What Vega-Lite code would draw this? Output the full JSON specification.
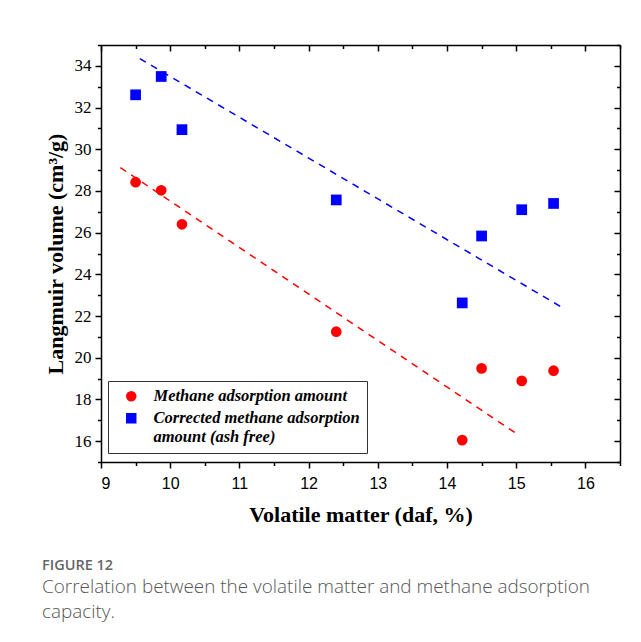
{
  "$schema": "https://vega.github.io/schema/vega-lite/v6.json",
  "autosize": {"type": "none"},
  "padding": {"left": 101, "top": 45, "right": 21, "bottom": 180},
  "width": 519,
  "height": 417,
  "background": "white",
  "config": {
    "view": {"stroke": null},
    "axis": {"domainColor": "black", "domainWidth": 1.5, "tickColor": "black", "tickWidth": 1.5, "grid": false, "labelColor": "black", "titleColor": "black"}
  },
  "title": {
    "text": "FIGURE 12",
    "subtitle": ["Correlation between the volatile matter and methane adsorption", "capacity."],
    "orient": "bottom",
    "anchor": "start",
    "frame": "group",
    "dx": -59,
    "offset": 34,
    "font": "Open Sans",
    "fontSize": 14.5,
    "fontWeight": 600,
    "color": "#666666",
    "subtitleFont": "Open Sans",
    "subtitleFontSize": 18.9,
    "subtitleFontWeight": 300,
    "subtitleColor": "#555555",
    "subtitleLineHeight": 25,
    "subtitlePadding": 4
  },
  "datasets": {
    "points": [
      {"vm": 9.50, "v": 28.42, "series": "Methane adsorption amount"},
      {"vm": 9.87, "v": 28.03, "series": "Methane adsorption amount"},
      {"vm": 10.17, "v": 26.40, "series": "Methane adsorption amount"},
      {"vm": 12.40, "v": 21.25, "series": "Methane adsorption amount"},
      {"vm": 14.22, "v": 16.05, "series": "Methane adsorption amount"},
      {"vm": 14.50, "v": 19.49, "series": "Methane adsorption amount"},
      {"vm": 15.08, "v": 18.89, "series": "Methane adsorption amount"},
      {"vm": 15.54, "v": 19.38, "series": "Methane adsorption amount"},
      {"vm": 9.50, "v": 32.61, "series": "Corrected methane adsorption amount (ash free)"},
      {"vm": 9.87, "v": 33.49, "series": "Corrected methane adsorption amount (ash free)"},
      {"vm": 10.17, "v": 30.94, "series": "Corrected methane adsorption amount (ash free)"},
      {"vm": 12.40, "v": 27.57, "series": "Corrected methane adsorption amount (ash free)"},
      {"vm": 14.22, "v": 22.63, "series": "Corrected methane adsorption amount (ash free)"},
      {"vm": 14.50, "v": 25.84, "series": "Corrected methane adsorption amount (ash free)"},
      {"vm": 15.08, "v": 27.10, "series": "Corrected methane adsorption amount (ash free)"},
      {"vm": 15.54, "v": 27.40, "series": "Corrected methane adsorption amount (ash free)"}
    ],
    "fits": [
      {"vm": 9.28, "v": 29.12, "series": "Methane adsorption amount"},
      {"vm": 15.03, "v": 16.30, "series": "Methane adsorption amount"},
      {"vm": 9.56, "v": 34.35, "series": "Corrected methane adsorption amount (ash free)"},
      {"vm": 15.68, "v": 22.38, "series": "Corrected methane adsorption amount (ash free)"}
    ]
  },
  "layer": [
    {
      "data": {"name": "fits"},
      "transform": [{"filter": "datum.series === 'Methane adsorption amount'"}],
      "mark": {"type": "line", "strokeWidth": 1.5, "strokeDash": [7, 6], "color": "#ff0000"},
      "encoding": {
        "x": {"field": "vm", "type": "quantitative", "scale": {"domain": [9, 16.5], "nice": false, "zero": false},
          "axis": {"orient": "bottom", "offset": -417, "title": null, "labels": false, "ticks": true,
            "values": [9, 10, 11, 12, 13, 14, 15, 16], "tickSize": 6}},
        "y": {"field": "v", "type": "quantitative", "scale": {"domain": [15, 35], "nice": false, "zero": false},
          "axis": {"orient": "right", "title": null, "labels": false, "ticks": true,
            "values": [16, 18, 20, 22, 24, 26, 28, 30, 32, 34], "tickSize": -6}}
      }
    },
    {
      "data": {"name": "fits"},
      "transform": [{"filter": "datum.series === 'Corrected methane adsorption amount (ash free)'"}],
      "mark": {"type": "line", "strokeWidth": 1.5, "strokeDash": [7, 6], "color": "#0000ff"},
      "encoding": {
        "x": {"field": "vm", "type": "quantitative",
          "axis": {"orient": "bottom", "offset": -417, "title": null, "labels": false, "ticks": true, "domain": false,
            "values": [9.5, 10.5, 11.5, 12.5, 13.5, 14.5, 15.5, 16.5], "tickSize": 3.5}},
        "y": {"field": "v", "type": "quantitative",
          "axis": {"orient": "right", "title": null, "labels": false, "ticks": true, "domain": false,
            "values": [15, 17, 19, 21, 23, 25, 27, 29, 31, 33, 35], "tickSize": -3.5}}
      }
    },
    {
      "data": {"name": "points"},
      "mark": {"type": "point", "filled": true, "opacity": 1, "size": 115},
      "encoding": {
        "x": {"field": "vm", "type": "quantitative",
          "axis": {"orient": "bottom", "title": "Volatile matter (daf, %)",
            "values": [9, 9.5, 10, 10.5, 11, 11.5, 12, 12.5, 13, 13.5, 14, 14.5, 15, 15.5, 16, 16.5],
            "tickSize": {"condition": {"test": "datum.value % 1 === 0", "value": 6}, "value": 3.5},
            "labelExpr": "datum.value % 1 === 0 ? format(datum.value, 'd') : ''",
            "labelFont": "Liberation Sans", "labelFontSize": 16, "labelPadding": 7,
            "titleFont": "Liberation Serif", "titleFontSize": 22, "titleFontWeight": "bold", "titlePadding": 13}},
        "y": {"field": "v", "type": "quantitative",
          "axis": {"orient": "left", "title": "Langmuir volume (cm³/g)",
            "values": [15, 16, 17, 18, 19, 20, 21, 22, 23, 24, 25, 26, 27, 28, 29, 30, 31, 32, 33, 34, 35],
            "tickSize": {"condition": {"test": "datum.value % 2 === 0", "value": 6}, "value": 3.5},
            "labelExpr": "datum.value % 2 === 0 ? format(datum.value, 'd') : ''",
            "labelFont": "Liberation Serif", "labelFontSize": 17, "labelPadding": 4,
            "titleFont": "Liberation Serif", "titleFontSize": 22, "titleFontWeight": "bold", "titlePadding": 7}},
        "color": {"field": "series", "type": "nominal",
          "scale": {"domain": ["Methane adsorption amount", "Corrected methane adsorption amount (ash free)"], "range": ["#ff0000", "#0000ff"]},
          "legend": {"title": null, "orient": "none", "legendX": 7, "legendY": 336,
            "strokeColor": "#333333", "fillColor": "white", "padding": 7, "symbolOffset": 8,
            "symbolSize": 110, "labelFont": "Liberation Serif", "labelFontSize": 16.5,
            "labelFontStyle": "italic", "labelFontWeight": "bold", "labelColor": "black", "labelOffset": 14,
            "labelLimit": 400, "rowPadding": 5,
            "labelExpr": "datum.label == 'Corrected methane adsorption amount (ash free)' ? ['Corrected methane adsorption', 'amount (ash free)'] : datum.label"}},
        "shape": {"field": "series", "type": "nominal",
          "scale": {"domain": ["Methane adsorption amount", "Corrected methane adsorption amount (ash free)"], "range": ["circle", "square"]}}
      }
    }
  ],
  "resolve": {"axis": {"x": "independent", "y": "independent"}}
}
